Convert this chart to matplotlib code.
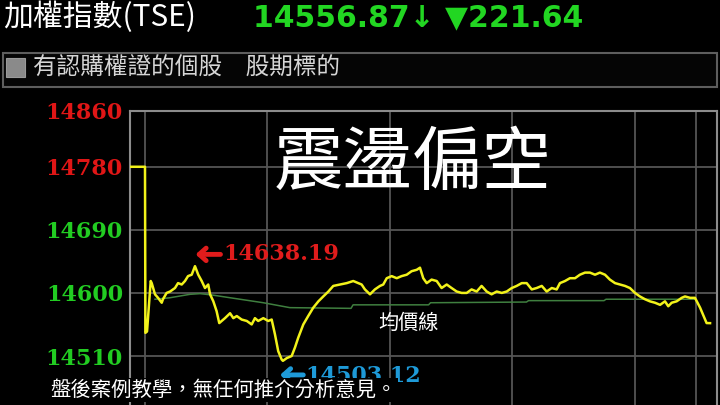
import matplotlib
matplotlib.use('Agg')
import matplotlib.pyplot as plt
from matplotlib.patches import Rectangle

plt.rcParams['font.family'] = ['Noto Sans CJK TC', 'DejaVu Sans']

# minutes after 09:00, index value (TAIEX intraday)
minutes = [-7.3, 0, 0.2, 1.0, 2.8, 3.3, 4.9, 6.4, 8.2, 8.8, 10.6, 12.3, 14.7, 16.2, 18.0, 19.6,
           21.1, 22.9, 24.5, 26.1, 27.8, 29.4, 31.0, 31.9, 33.5, 35.1, 36.4, 37.6, 39.2, 41.7,
           43.3, 45.0, 47.4, 49.9, 52.3, 53.9, 55.5, 58.0, 60.4, 62.1, 63.7, 65.3, 67.0, 67.6,
           69.5, 71.9, 73.5, 75.1, 77.6, 80.0, 82.5, 85.0, 87.4, 89.9, 92.3, 95.6, 98.9, 102.1,
           104.6, 106.2, 107.8, 110.3, 112.7, 115.2, 116.8, 118.5, 120.9, 123.4, 125.8, 128.3,
           130.7, 133.2, 134.8, 136.4, 138.1, 140.5, 143.0, 145.4, 147.9, 150.3, 152.8, 155.2,
           157.7, 160.1, 162.6, 165.0, 167.5, 169.9, 172.4, 174.9, 177.3, 179.8, 182.2, 184.7,
           187.1, 189.6, 192.0, 194.5, 196.9, 199.4, 201.8, 203.4, 205.9, 208.3, 210.8, 213.2,
           215.7, 218.1, 220.6, 223.0, 225.5, 227.9, 230.4, 232.8, 235.3, 237.7, 240.2, 242.6,
           245.1, 247.5, 250.0, 252.5, 254.9, 256.5, 258.2, 260.6, 263.1, 264.7, 267.2, 269.6,
           272.1, 275.3, 277.0]
prices = [14780, 14780, 14543, 14545, 14617, 14614, 14598, 14593, 14586, 14591, 14600, 14602,
          14607, 14614, 14612, 14617, 14624, 14626, 14638.19, 14626, 14617, 14607, 14612, 14598,
          14588, 14574, 14557, 14560, 14564, 14571, 14564, 14567, 14562, 14560, 14555, 14564,
          14560, 14564, 14560, 14562, 14541, 14517, 14505, 14503.12, 14507, 14510, 14522, 14536,
          14555, 14567, 14579, 14588, 14595, 14602, 14610, 14612, 14614, 14617, 14614, 14612,
          14605, 14598, 14605, 14610, 14612, 14621, 14624, 14621, 14624, 14626, 14631, 14633,
          14636, 14621, 14614, 14619, 14617, 14607, 14612, 14607, 14602, 14600, 14600, 14605,
          14602, 14610, 14602, 14598, 14602, 14600, 14602, 14607, 14610, 14614, 14614, 14605,
          14607, 14610, 14602, 14607, 14605, 14614, 14617, 14621, 14621, 14626, 14629, 14629,
          14626, 14629, 14626, 14619, 14614, 14612, 14610, 14607, 14600, 14595, 14591, 14588,
          14586, 14583, 14588, 14581, 14586, 14588, 14593, 14595, 14593, 14593, 14579, 14557,
          14556.87]

avg_minutes = [4.9, 12.0, 22.0, 27.0, 33.0, 42.0, 58.0, 71.0, 101.0, 102.0, 139.0, 140.0,
               187.0, 188.0, 225.0, 226.0, 270.0]
avg_prices = [14591, 14593, 14598, 14599, 14597, 14593, 14586, 14579, 14578, 14583, 14583,
              14586, 14587, 14589, 14589, 14591, 14591]

y_ticks = [14860, 14780, 14690, 14600, 14510, 14420]
x_grid = [0, 60, 120, 180, 240, 270]
high_val, low_val = 14638.19, 14503.12
last_val, change = 14556.87, 221.64

fig = plt.figure(figsize=(7.2, 4.05), dpi=100, facecolor='black')

# header
fig.text(3/720, 1 - 17/405, '加權指數(TSE)', color='white', fontsize=21.5, va='center', ha='left')
fig.text(253/720, 1 - 17.5/405, f'{last_val:.2f}↓ ▼{change:.2f}', color='#22d622',
         fontsize=21.5, fontweight='bold', family='DejaVu Sans', va='center', ha='left')
fig.patches.append(Rectangle((3/720, 1 - 87/405), 714/720, 34/405, transform=fig.transFigure,
                             facecolor='#050505', edgecolor='#5e5e5e', lw=1.5))
fig.patches.append(Rectangle((6/720, 1 - 77/405), 19/720, 19/405, transform=fig.transFigure,
                             facecolor='#8a8a8a', edgecolor='#9a9a9a', lw=0.8))
fig.text(33/720, 1 - 67/405, '有認購權證的個股　股期標的', color='#d6d6d6', fontsize=17,
         va='center', ha='left')

ax = fig.add_axes([130/720, (405 - 433.1)/405, 587/720, 322.4/405])
ax.set_facecolor('black')
ax.set_xlim(-7.35, 280.4)
ax.set_ylim(14400, 14860)

for x in x_grid:
    ax.axvline(x, color='#555555', lw=1.3, zorder=1)
for y in y_ticks[1:]:
    ax.axhline(y, color='#555555', lw=1.3, zorder=1)

ax.plot(avg_minutes, avg_prices, color='#3f7f3f', lw=1.1, zorder=2)
ax.plot(minutes, prices, color='#f2f21a', lw=1.8, zorder=3)

ax.set_xticks([])
ax.set_yticks(y_ticks)
ax.set_yticklabels([str(t) for t in y_ticks], family='DejaVu Serif', fontweight='bold', fontsize=16)
ax.tick_params(axis='y', length=0, pad=5)
for lab, t in zip(ax.get_yticklabels(), y_ticks):
    lab.set_color('#e01616' if t > 14700 else '#22cc22')

for side in ['left', 'top', 'right']:
    ax.spines[side].set_color('#8c8c8c')
    ax.spines[side].set_linewidth(1.5)
ax.spines['bottom'].set_visible(False)

# high / low markers
arrow_style = '->,head_length=0.5,head_width=0.45'
ax.annotate('', xy=(24.8, 14655), xytext=(37.0, 14655),
            arrowprops=dict(arrowstyle=arrow_style, color='#e01c1c', lw=3.5,
                            shrinkA=0, shrinkB=0), zorder=4)
ax.text(38.2, 14655, f'{high_val:.2f}', color='#e01c1c', fontsize=16, fontweight='bold',
        family='DejaVu Serif', va='center', ha='left', zorder=4)
ax.annotate('', xy=(66.2, 14483), xytext=(77.6, 14483),
            arrowprops=dict(arrowstyle=arrow_style, color='#1e9ad8', lw=3.5,
                            shrinkA=0, shrinkB=0), zorder=4)
ax.text(78.4, 14481, f'{low_val:.2f}', color='#1e9ad8', fontsize=16, fontweight='bold',
        family='DejaVu Serif', va='center', ha='left', zorder=4)

ax.text(129, 14557, '均價線', color='white', fontsize=14.5, va='center', ha='center', zorder=4)
ax.text(131.4, 14784, '震盪偏空', color='white', fontsize=50, va='center', ha='center', zorder=4)

fig.text(50/720, 1 - 390/405, '盤後案例教學，無任何推介分析意見。', color='white', fontsize=14.7,
         va='center', ha='left', bbox=dict(facecolor='black', edgecolor='none', pad=1))

fig.savefig('out.png', dpi=100, facecolor='black')
